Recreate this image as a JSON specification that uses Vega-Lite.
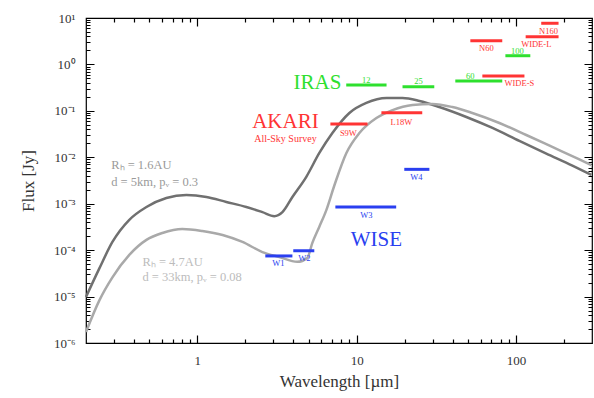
{
  "$schema": "https://vega.github.io/schema/vega-lite/v6.json",
  "width": 506,
  "height": 325,
  "autosize": {"type": "none"},
  "padding": {"left": 86, "top": 18, "right": 2, "bottom": 55},
  "background": "white",
  "config": {
    "view": {"stroke": "black", "strokeWidth": 1.2},
    "font": "Liberation Serif",
    "text": {"font": "Liberation Serif"},
    "axis": {"domain": false, "ticks": false}
  },
  "datasets": {
    "curves": [
      {"model": "1.6AU", "wl": 0.2, "flux": 9.8e-6},
      {"model": "1.6AU", "wl": 0.243, "flux": 4.1e-5},
      {"model": "1.6AU", "wl": 0.293, "flux": 1.5e-4},
      {"model": "1.6AU", "wl": 0.374, "flux": 4.5e-4},
      {"model": "1.6AU", "wl": 0.479, "flux": 8.5e-4},
      {"model": "1.6AU", "wl": 0.639, "flux": 1.33e-3},
      {"model": "1.6AU", "wl": 0.853, "flux": 1.54e-3},
      {"model": "1.6AU", "wl": 1.14, "flux": 1.40e-3},
      {"model": "1.6AU", "wl": 1.52, "flux": 1.09e-3},
      {"model": "1.6AU", "wl": 2.03, "flux": 8.5e-4},
      {"model": "1.6AU", "wl": 2.56, "flux": 6.6e-4},
      {"model": "1.6AU", "wl": 3.04, "flux": 5.4e-4},
      {"model": "1.6AU", "wl": 3.42, "flux": 6.6e-4},
      {"model": "1.6AU", "wl": 3.95, "flux": 1.4e-3},
      {"model": "1.6AU", "wl": 4.83, "flux": 3.8e-3},
      {"model": "1.6AU", "wl": 5.83, "flux": 0.0124},
      {"model": "1.6AU", "wl": 7.04, "flux": 0.0333},
      {"model": "1.6AU", "wl": 9.0, "flux": 0.090},
      {"model": "1.6AU", "wl": 11.5, "flux": 0.148},
      {"model": "1.6AU", "wl": 15.4, "flux": 0.189},
      {"model": "1.6AU", "wl": 19.4, "flux": 0.189},
      {"model": "1.6AU", "wl": 24.8, "flux": 0.163},
      {"model": "1.6AU", "wl": 33.0, "flux": 0.121},
      {"model": "1.6AU", "wl": 48.8, "flux": 0.0738},
      {"model": "1.6AU", "wl": 71.2, "flux": 0.0428},
      {"model": "1.6AU", "wl": 105, "flux": 0.0225},
      {"model": "1.6AU", "wl": 155, "flux": 0.0120},
      {"model": "1.6AU", "wl": 226, "flux": 6.6e-3},
      {"model": "1.6AU", "wl": 297, "flux": 4.2e-3},
      {"model": "4.7AU", "wl": 0.2, "flux": 1.73e-6},
      {"model": "4.7AU", "wl": 0.243, "flux": 8.4e-6},
      {"model": "4.7AU", "wl": 0.293, "flux": 2.6e-5},
      {"model": "4.7AU", "wl": 0.374, "flux": 7.9e-5},
      {"model": "4.7AU", "wl": 0.479, "flux": 1.66e-4},
      {"model": "4.7AU", "wl": 0.603, "flux": 2.34e-4},
      {"model": "4.7AU", "wl": 0.805, "flux": 2.85e-4},
      {"model": "4.7AU", "wl": 1.075, "flux": 2.58e-4},
      {"model": "4.7AU", "wl": 1.44, "flux": 2.12e-4},
      {"model": "4.7AU", "wl": 1.92, "flux": 1.5e-4},
      {"model": "4.7AU", "wl": 2.56, "flux": 9.1e-5},
      {"model": "4.7AU", "wl": 3.27, "flux": 7.1e-5},
      {"model": "4.7AU", "wl": 4.24, "flux": 5.6e-5},
      {"model": "4.7AU", "wl": 4.9, "flux": 6.8e-5},
      {"model": "4.7AU", "wl": 5.27, "flux": 1.43e-4},
      {"model": "4.7AU", "wl": 5.83, "flux": 3.2e-4},
      {"model": "4.7AU", "wl": 6.45, "flux": 7.3e-4},
      {"model": "4.7AU", "wl": 7.25, "flux": 2.5e-3},
      {"model": "4.7AU", "wl": 8.62, "flux": 0.0124},
      {"model": "4.7AU", "wl": 10.4, "flux": 0.0333},
      {"model": "4.7AU", "wl": 13.3, "flux": 0.070},
      {"model": "4.7AU", "wl": 16.8, "flux": 0.104},
      {"model": "4.7AU", "wl": 22.4, "flux": 0.134},
      {"model": "4.7AU", "wl": 29.9, "flux": 0.141},
      {"model": "4.7AU", "wl": 39.9, "flux": 0.121},
      {"model": "4.7AU", "wl": 53.2, "flux": 0.090},
      {"model": "4.7AU", "wl": 78.7, "flux": 0.0548},
      {"model": "4.7AU", "wl": 116, "flux": 0.0302},
      {"model": "4.7AU", "wl": 169, "flux": 0.0167},
      {"model": "4.7AU", "wl": 250, "flux": 9.0e-3},
      {"model": "4.7AU", "wl": 297, "flux": 6.8e-3}
    ],
    "bands": [
      {"survey": "IRAS", "band": "12", "lo": 8.6, "hi": 15.4, "flux": 0.36},
      {"survey": "IRAS", "band": "25", "lo": 19.4, "hi": 30.7, "flux": 0.33},
      {"survey": "IRAS", "band": "60", "lo": 41.6, "hi": 82, "flux": 0.44},
      {"survey": "IRAS", "band": "100", "lo": 85.8, "hi": 123, "flux": 1.54},
      {"survey": "AKARI", "band": "S9W", "lo": 6.84, "hi": 11.7, "flux": 0.052},
      {"survey": "AKARI", "band": "L18W", "lo": 14.3, "hi": 25.8, "flux": 0.091},
      {"survey": "AKARI", "band": "N60", "lo": 51.7, "hi": 82, "flux": 3.25},
      {"survey": "AKARI", "band": "WIDE-S", "lo": 61.5, "hi": 113, "flux": 0.56},
      {"survey": "AKARI", "band": "WIDE-L", "lo": 115, "hi": 185, "flux": 3.96},
      {"survey": "AKARI", "band": "N160", "lo": 144, "hi": 185, "flux": 7.7},
      {"survey": "WISE", "band": "W1", "lo": 2.67, "hi": 3.95, "flux": 7.5e-5},
      {"survey": "WISE", "band": "W2", "lo": 4.0, "hi": 5.42, "flux": 9.7e-5},
      {"survey": "WISE", "band": "W3", "lo": 7.35, "hi": 17.7, "flux": 8.5e-4},
      {"survey": "WISE", "band": "W4", "lo": 19.9, "hi": 28.6, "flux": 5.5e-3}
    ],
    "bandLabels": [
      {"survey": "WISE", "text": "W1", "wl": 3.22, "flux": 5.3e-5},
      {"survey": "WISE", "text": "W2", "wl": 4.69, "flux": 6.8e-5},
      {"survey": "WISE", "text": "W3", "wl": 11.5, "flux": 5.7e-4},
      {"survey": "WISE", "text": "W4", "wl": 23.7, "flux": 3.77e-3},
      {"survey": "IRAS", "text": "12", "wl": 11.5, "flux": 0.46},
      {"survey": "IRAS", "text": "25", "wl": 24.4, "flux": 0.44},
      {"survey": "IRAS", "text": "60", "wl": 51.7, "flux": 0.56},
      {"survey": "IRAS", "text": "100", "wl": 102, "flux": 1.95},
      {"survey": "AKARI", "text": "S9W", "wl": 8.87, "flux": 0.0333},
      {"survey": "AKARI", "text": "L18W", "wl": 19.1, "flux": 0.0575},
      {"survey": "AKARI", "text": "N60", "wl": 65.2, "flux": 2.26},
      {"survey": "AKARI", "text": "WIDE-S", "wl": 105, "flux": 0.40},
      {"survey": "AKARI", "text": "WIDE-L", "wl": 134, "flux": 2.75},
      {"survey": "AKARI", "text": "N160", "wl": 160, "flux": 5.25}
    ],
    "surveyLabels": [
      {"survey": "IRAS", "text": "IRAS", "wl": 5.67, "flux": 0.40},
      {"survey": "AKARI", "text": "AKARI", "wl": 3.57, "flux": 0.0575},
      {"survey": "WISE", "text": "WISE", "wl": 13.3, "flux": 1.66e-4}
    ],
    "subLabels": [
      {"survey": "AKARI", "text": "All-Sky Survey", "wl": 3.57, "flux": 0.0248}
    ],
    "notes": [
      {"model": "1.6AU", "text": "Rₕ = 1.6AU", "wl": 0.288, "flux": 6.8e-3},
      {"model": "1.6AU", "text": "d = 5km, pᵥ = 0.3", "wl": 0.288, "flux": 2.9e-3},
      {"model": "4.7AU", "text": "Rₕ = 4.7AU", "wl": 0.452, "flux": 5.6e-5},
      {"model": "4.7AU", "text": "d = 33km, pᵥ = 0.08", "wl": 0.452, "flux": 2.6e-5}
    ]
  },
  "layer": [
    {
      "data": {"name": "curves"},
      "mark": {"type": "line", "interpolate": "monotone", "strokeWidth": 2.5},
      "encoding": {
        "x": {
          "field": "wl", "type": "quantitative",
          "scale": {"type": "log", "domain": [0.2, 300], "nice": false},
          "axis": {
            "orient": "bottom",
            "values": [0.3, 0.4, 0.5, 0.6, 0.7, 0.8, 0.9, 1, 2, 3, 4, 5, 6, 7, 8, 9, 10, 20, 30, 40, 50, 60, 70, 80, 90, 100, 200],
            "labelExpr": "datum.value == 1 || datum.value == 10 || datum.value == 100 ? toString(datum.value) : ''",
            "grid": true, "gridColor": "black", "gridWidth": 1.2, "gridOpacity": 1,
            "gridDash": {"condition": {"test": "datum.value == 1 || datum.value == 10 || datum.value == 100", "value": [8, 309]}, "value": [4, 317]},
            "labelFontSize": 13, "labelColor": "#333", "labelPadding": 11, "labelFlush": false, "labelOverlap": false,
            "title": "Wavelength [µm]", "titleFontSize": 17, "titleFontWeight": "normal", "titleColor": "#333", "titlePadding": 6
          }
        },
        "y": {
          "field": "flux", "type": "quantitative",
          "scale": {"type": "log", "domain": [1e-6, 10], "nice": false},
          "axis": {
            "orient": "left",
            "values": [1e-6, 2e-6, 3e-6, 4e-6, 5e-6, 6e-6, 7e-6, 8e-6, 9e-6, 1e-5, 2e-5, 3e-5, 4e-5, 5e-5, 6e-5, 7e-5, 8e-5, 9e-5, 1e-4, 2e-4, 3e-4, 4e-4, 5e-4, 6e-4, 7e-4, 8e-4, 9e-4, 1e-3, 2e-3, 3e-3, 4e-3, 5e-3, 6e-3, 7e-3, 8e-3, 9e-3, 0.01, 0.02, 0.03, 0.04, 0.05, 0.06, 0.07, 0.08, 0.09, 0.1, 0.2, 0.3, 0.4, 0.5, 0.6, 0.7, 0.8, 0.9, 1, 2, 3, 4, 5, 6, 7, 8, 9, 10],
            "labelExpr": "abs(log(datum.value)/LN10 - round(log(datum.value)/LN10)) < 0.01 ? '10' + ['⁻⁶','⁻⁵','⁻⁴','⁻³','⁻²','⁻¹','⁰','¹'][round(log(datum.value)/LN10) + 6] : ''",
            "grid": true, "gridColor": "black", "gridWidth": 1.2, "gridOpacity": 1,
            "gridDash": {"condition": {"test": "abs(log(datum.value)/LN10 - round(log(datum.value)/LN10)) < 0.01", "value": [8, 490]}, "value": [4, 498]},
            "labelFontSize": 13, "labelColor": "#333", "labelPadding": 11, "labelOverlap": false, "labelFlush": false,
            "title": "Flux [Jy]", "titleFontSize": 17, "titleFontWeight": "normal", "titleColor": "#333", "titlePadding": 16
          }
        },
        "color": {"field": "model", "type": "nominal", "scale": {"domain": ["1.6AU", "4.7AU"], "range": ["#707070", "#a9a9a9"]}, "legend": null}
      }
    },
    {
      "data": {"name": "bands"},
      "mark": {"type": "rule", "strokeWidth": 3, "strokeCap": "butt"},
      "encoding": {
        "x": {"field": "lo", "type": "quantitative", "scale": {"type": "log", "domain": [0.2, 300], "nice": false}, "axis": null},
        "x2": {"field": "hi"},
        "y": {"field": "flux", "type": "quantitative", "scale": {"type": "log", "domain": [1e-6, 10], "nice": false}, "axis": null},
        "color": {"field": "survey", "type": "nominal", "scale": {"domain": ["IRAS", "AKARI", "WISE"], "range": ["#2ee02e", "#ff3434", "#2a3ff0"]}, "legend": null}
      }
    },
    {
      "data": {"name": "bandLabels"},
      "mark": {"type": "text", "fontSize": 8.5, "align": "center", "baseline": "middle", "font": "Liberation Serif"},
      "encoding": {
        "x": {"field": "wl", "type": "quantitative", "scale": {"type": "log", "domain": [0.2, 300], "nice": false}, "axis": null},
        "y": {"field": "flux", "type": "quantitative", "scale": {"type": "log", "domain": [1e-6, 10], "nice": false}, "axis": null},
        "text": {"field": "text"},
        "color": {"field": "survey", "type": "nominal", "scale": {"domain": ["IRAS", "AKARI", "WISE"], "range": ["#2ee02e", "#ff3434", "#2a3ff0"]}, "legend": null}
      }
    },
    {
      "data": {"name": "surveyLabels"},
      "mark": {"type": "text", "fontSize": 21, "align": "center", "baseline": "middle", "font": "Liberation Serif"},
      "encoding": {
        "x": {"field": "wl", "type": "quantitative", "scale": {"type": "log", "domain": [0.2, 300], "nice": false}, "axis": null},
        "y": {"field": "flux", "type": "quantitative", "scale": {"type": "log", "domain": [1e-6, 10], "nice": false}, "axis": null},
        "text": {"field": "text"},
        "color": {"field": "survey", "type": "nominal", "scale": {"domain": ["IRAS", "AKARI", "WISE"], "range": ["#2ee02e", "#ff3434", "#2a3ff0"]}, "legend": null}
      }
    },
    {
      "data": {"name": "subLabels"},
      "mark": {"type": "text", "fontSize": 10, "align": "center", "baseline": "middle", "font": "Liberation Serif", "color": "#ff3434"},
      "encoding": {
        "x": {"field": "wl", "type": "quantitative", "scale": {"type": "log", "domain": [0.2, 300], "nice": false}, "axis": null},
        "y": {"field": "flux", "type": "quantitative", "scale": {"type": "log", "domain": [1e-6, 10], "nice": false}, "axis": null},
        "text": {"field": "text"}
      }
    },
    {
      "data": {"name": "notes"},
      "mark": {"type": "text", "fontSize": 12.5, "align": "left", "baseline": "middle", "font": "Liberation Serif"},
      "encoding": {
        "x": {"field": "wl", "type": "quantitative", "scale": {"type": "log", "domain": [0.2, 300], "nice": false}, "axis": null},
        "y": {"field": "flux", "type": "quantitative", "scale": {"type": "log", "domain": [1e-6, 10], "nice": false}, "axis": null},
        "text": {"field": "text"},
        "color": {"field": "model", "type": "nominal", "scale": {"domain": ["1.6AU", "4.7AU"], "range": ["#9a9a9a", "#bcbcbc"]}, "legend": null}
      }
    }
  ],
  "resolve": {"scale": {"color": "independent"}, "axis": {"x": "independent", "y": "independent"}}
}
